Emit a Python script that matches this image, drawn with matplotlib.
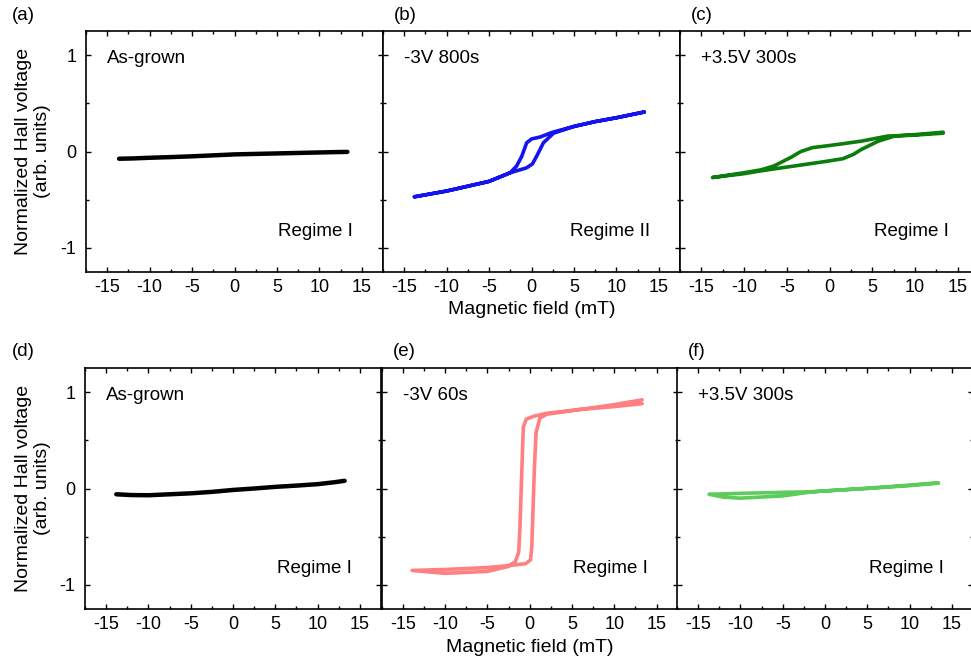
import matplotlib
matplotlib.use("Agg")
import matplotlib.pyplot as plt
from matplotlib.ticker import MultipleLocator

plt.rcParams['font.family'] = ['Liberation Sans', 'DejaVu Sans']
plt.rcParams['axes.unicode_minus'] = False

# (a) as-grown, top row
a_x = [-13.6, -12, -10, -7.5, -5, -2.5, 0, 2.5, 5, 7.5, 10, 12, 13.3]
a_y = [-0.075, -0.072, -0.065, -0.058, -0.05, -0.04, -0.03, -0.025, -0.02, -0.015, -0.01, -0.006, -0.004]

# (b) -3V 800s : sweep down then sweep up
b_down_x = [13.3, 10, 7.5, 5, 2.5, 1.0, 0, -0.57, -1.15, -1.75, -2.5, -5, -7.5, -10, -13.8]
b_down_y = [0.41, 0.35, 0.31, 0.26, 0.20, 0.15, 0.13, 0.09, -0.05, -0.15, -0.22, -0.31, -0.36, -0.41, -0.47]
b_up_x = [-13.8, -10, -7.5, -5, -2.5, -0.6, 0.1, 0.6, 1.4, 2.6, 5, 7.5, 10, 13.3]
b_up_y = [-0.47, -0.41, -0.36, -0.31, -0.22, -0.17, -0.13, -0.05, 0.09, 0.19, 0.26, 0.31, 0.35, 0.41]

# (c) +3.5V 300s
c_down_x = [13.3, 10, 6.8, 3.7, 1.5, -0.2, -2.0, -3.35, -4.5, -6.5, -8.0, -10, -13.7]
c_down_y = [0.19, 0.17, 0.16, 0.107, 0.08, 0.06, 0.04, 0.0, -0.06, -0.15, -0.19, -0.22, -0.27]
c_up_x = [-13.7, -10, -8.0, -4.1, -0.2, 1.55, 2.8, 3.7, 5.7, 7.6, 10, 13.3]
c_up_y = [-0.27, -0.23, -0.20, -0.15, -0.10, -0.075, -0.03, 0.02, 0.107, 0.16, 0.175, 0.20]

# (d) as-grown, bottom row
d_x = [-13.8, -12, -10, -7.5, -5, -2.5, 0, 2.5, 5, 7.5, 10, 12, 13.2]
d_y = [-0.06, -0.068, -0.07, -0.06, -0.05, -0.035, -0.015, 0.0, 0.017, 0.03, 0.045, 0.065, 0.08]

# (e) -3V 60s
e_down_x = [13.3, 10, 6, 2, 0.5, -0.4, -0.75, -0.85, -1.0, -1.15, -1.3, -1.7, -2.6, -5, -10, -13.9]
e_down_y = [0.88, 0.85, 0.82, 0.78, 0.75, 0.72, 0.64, 0.40, 0.0, -0.40, -0.66, -0.76, -0.81, -0.86, -0.88, -0.85]
e_up_x = [-13.9, -10, -5, -2.5, -0.5, 0.1, 0.25, 0.4, 0.55, 0.75, 1.2, 2, 6, 10, 13.3]
e_up_y = [-0.85, -0.84, -0.82, -0.80, -0.78, -0.74, -0.60, -0.20, 0.20, 0.58, 0.73, 0.77, 0.82, 0.87, 0.92]

# (f) +3.5V 300s
f_down_x = [13.4, 10, 5, 0, -2, -5, -10, -13.7]
f_down_y = [0.06, 0.035, 0.003, -0.025, -0.035, -0.04, -0.05, -0.06]
f_up_x = [-13.7, -12, -10, -5, -2, 0, 5, 10, 13.4]
f_up_y = [-0.06, -0.09, -0.10, -0.077, -0.04, -0.025, 0.0, 0.03, 0.055]

panel_tags = ['(a)', '(b)', '(c)', '(d)', '(e)', '(f)']
treatments = ['As-grown', '-3V 800s', '+3.5V 300s', 'As-grown', '-3V 60s', '+3.5V 300s']
regimes = ['Regime I', 'Regime II', 'Regime I', 'Regime I', 'Regime I', 'Regime I']

curves = [
    (a_x, a_y),
    (b_down_x + b_up_x, b_down_y + b_up_y),
    (c_down_x + c_up_x, c_down_y + c_up_y),
    (d_x, d_y),
    (e_down_x + e_up_x, e_down_y + e_up_y),
    (f_down_x + f_up_x, f_down_y + f_up_y),
]
colors = ['black', '#1414f0', '#0b7d0b', 'black', '#ff8080', '#5dcc5d']
widths = [3.2, 2.6, 2.6, 3.2, 2.6, 2.6]

W, H = 971, 666
fig = plt.figure(figsize=(W / 100, H / 100), dpi=100)

# pixel boxes: left, top, width, height
boxes = [(86, 31, 297, 241), (383, 31, 297, 241), (680, 31, 299, 241),
         (85, 368, 296, 241), (381.7, 368, 296, 241), (677, 368, 296, 241)]

for i, (l, t, w, h) in enumerate(boxes):
    ax = fig.add_axes([l / W, (H - t - h) / H, w / W, h / H])
    x, y = curves[i]
    ax.plot(x, y, color=colors[i], lw=widths[i], solid_joinstyle='round', solid_capstyle='round')
    ax.set_xlim(-17.5, 17.5)
    ax.set_ylim(-1.25, 1.25)
    ax.set_xticks([-15, -10, -5, 0, 5, 10, 15])
    ax.set_yticks([-1, 0, 1])
    ax.xaxis.set_minor_locator(MultipleLocator(2.5))
    ax.yaxis.set_minor_locator(MultipleLocator(0.5))
    ax.tick_params(which='both', direction='in', top=True, right=True, labelsize=13, width=1)
    ax.tick_params(which='major', length=3.8)
    ax.tick_params(which='minor', length=2.2)
    ax.tick_params(axis='x', pad=5)
    ax.tick_params(axis='y', pad=7)
    for s in ax.spines.values():
        s.set_linewidth(1.2)
    if i % 3 != 0:
        ax.set_yticklabels([])
    if i % 3 == 1:
        ax.set_xlabel('Magnetic field (mT)', fontsize=14, labelpad=4)
    ax.text(-15, 0.96, treatments[i], fontsize=13.5, ha='left', va='center')
    ax.text(14, -0.83, regimes[i], fontsize=13.5, ha='right', va='center')
    tag_x = 12 if i % 3 == 0 else l + 11
    fig.text(tag_x / W, (H - (t - 16)) / H, panel_tags[i], fontsize=13.5, ha='left', va='center')
    if i % 3 == 0:
        fig.text(33 / W, (H - (t + h / 2)) / H, 'Normalized Hall voltage\n(arb. units)',
                 fontsize=14, rotation=90, ha='center', va='center', multialignment='center')

fig.savefig('out.png', dpi=100)
